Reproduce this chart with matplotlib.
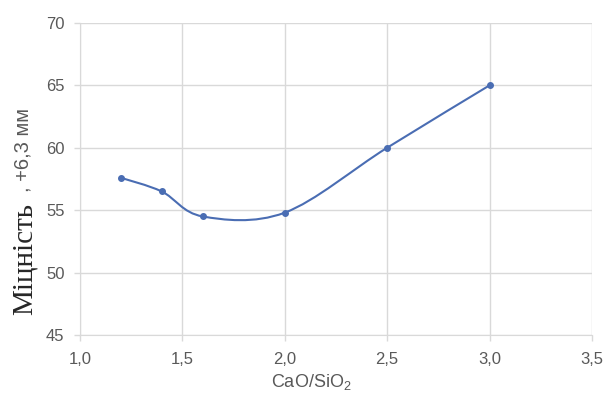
import numpy as np
import matplotlib.pyplot as plt
from matplotlib.path import Path
from matplotlib.patches import PathPatch

ratio = [1.2, 1.4, 1.6, 2.0, 2.5, 3.0]
strength = [57.6, 56.5, 54.5, 54.8, 60.0, 65.0]
xticks = [1.0, 1.5, 2.0, 2.5, 3.0, 3.5]
yticks = [45, 50, 55, 60, 65, 70]

plt.rcParams['font.family'] = ['Liberation Sans', 'DejaVu Sans']
grey = '#595959'
blue = '#4a6db3'

fig = plt.figure(figsize=(6.09, 3.96), dpi=100)
ax = fig.add_axes([0.131, 0.154, 0.841, 0.788])

# excel-like smoothed line: cubic bezier through the points
pts = np.column_stack([ratio, strength])
verts = [pts[0]]
codes = [Path.MOVETO]
n = len(pts)
for i in range(n - 1):
    p0 = pts[i - 1] if i > 0 else pts[i]
    p1 = pts[i]
    p2 = pts[i + 1]
    p3 = pts[i + 2] if i + 2 < n else pts[i + 1]
    c1 = p1 + (p2 - p0) / 6.0
    c2 = p2 - (p3 - p1) / 6.0
    verts += [c1, c2, p2]
    codes += [Path.CURVE4] * 3
ax.add_patch(PathPatch(Path(verts, codes), fill=False, ec=blue, lw=1.5, zorder=3))
ax.plot(ratio, strength, ls='none', marker='o', ms=4, color=blue, zorder=4)

ax.set_xlim(1.0, 3.5)
ax.set_ylim(45, 70)
ax.set_xticks(xticks)
ax.set_yticks(yticks)
ax.set_xticklabels([f'{v:.1f}'.replace('.', ',') for v in xticks])
ax.set_yticklabels([str(v) for v in yticks])
ax.grid(True, color='#d9d9d9', lw=1)
ax.set_axisbelow(True)
for s in ['top', 'right']:
    ax.spines[s].set_visible(False)
for s in ['left', 'bottom']:
    ax.spines[s].set_color('#d9d9d9')
ax.tick_params(colors='#d9d9d9', labelcolor=grey, labelsize=12, length=4, width=1)
ax.tick_params(axis='x', pad=8)
ax.tick_params(axis='y', pad=7)

ax.set_xlabel('CaO/SiO$_\\mathregular{2}$', fontsize=13, color=grey)
ax.xaxis.set_label_coords(0.453, -0.12)

fig.text(0.040, 0.205, 'Міцність', rotation=90, fontsize=21,
         family='Liberation Serif', color='#262626', ha='center', va='bottom')
fig.text(0.038, 0.515, ', +6,3 мм', rotation=90, fontsize=14.5,
         color=grey, ha='center', va='bottom')

fig.savefig('out.png', dpi=100)
